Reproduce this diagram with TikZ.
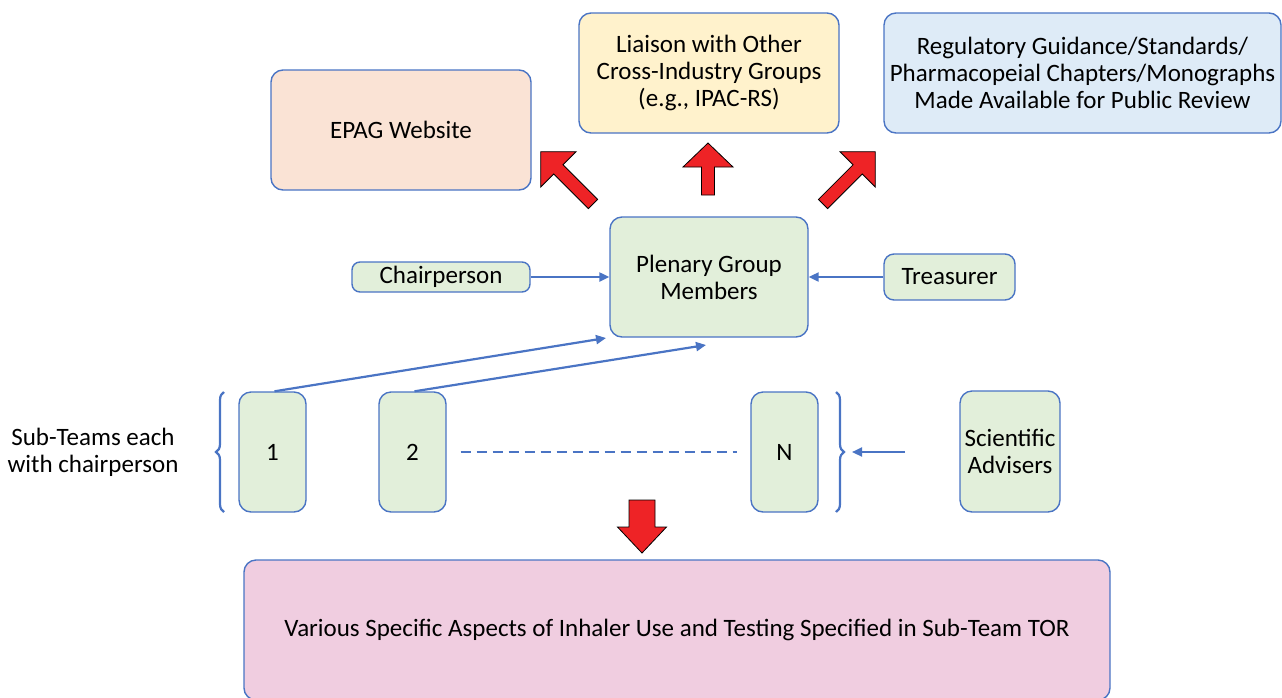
\documentclass[tikz,border=0pt]{standalone}
\usepackage{fontspec}
\setmainfont{Carlito}
\usetikzlibrary{decorations.pathreplacing,arrows.meta}
\definecolor{bl}{HTML}{4A74C4}
\definecolor{peach}{HTML}{FAE3D5}
\definecolor{yel}{HTML}{FFF2CC}
\definecolor{lblue}{HTML}{DEEBF7}
\definecolor{lgreen}{HTML}{E2EFDA}
\definecolor{pink}{HTML}{F0CDE0}
\definecolor{rd}{HTML}{EE2326}
\newcommand{\redarrow}[7]{%
  \filldraw[redarr, shift={(#1,#2)}, rotate=#3]
    (0,-#7) -- (#4-#5,-#7) -- (#4-#5,-#6) -- (#4,0) -- (#4-#5,#6) -- (#4-#5,#7) -- (0,#7) -- cycle;}
\begin{document}
\begin{tikzpicture}[x=1pt,y=-1pt,
  box/.style={draw=bl, line width=1.4pt, rounded corners=12pt, align=center,
    inner sep=0pt, font=\fontsize{25}{27}\selectfont},
  conn/.style={draw=bl, line width=2.2pt, -{Triangle[length=10pt,width=9pt]}},
  bracestyle/.style={draw=bl, line width=2.2pt, decorate, decoration={brace, amplitude=8pt}},
  redarr/.style={fill=rd, draw=black, line width=0.8pt},
  lbl/.style={align=center, inner sep=0pt, font=\fontsize{25}{27}\selectfont}]
\useasboundingbox (0,0) rectangle (1282,697);

\node[box, fill=peach, minimum width=260pt, minimum height=120pt] (epag) at (401,130) {EPAG Website};
\node[box, fill=yel, minimum width=260pt, minimum height=120pt] (liaison) at (709,73)
  {Liaison with Other\\Cross-Industry Groups\\(e.g., IPAC-RS)};
\node[box, fill=lblue, minimum width=397pt, minimum height=120pt] (reg) at (1082.5,73)
  {Regulatory Guidance/Standards/\\Pharmacopeial Chapters/Monographs\\Made Available for Public Review};
\node[box, fill=lgreen, minimum width=198pt, minimum height=120pt] (plen) at (709,277)
  {Plenary Group\\Members};
\node[box, fill=lgreen, rounded corners=8pt, minimum width=178pt, minimum height=30pt] (chair) at (441,277) {Chairperson};
\node[box, fill=lgreen, rounded corners=10pt, minimum width=131pt, minimum height=46pt] (treas) at (949.5,277) {Treasurer};
\node[box, fill=lgreen, minimum width=67pt, minimum height=120pt] (s1) at (272.5,452) {1};
\node[box, fill=lgreen, minimum width=67pt, minimum height=120pt] (s2) at (412.5,452) {2};
\node[box, fill=lgreen, minimum width=67pt, minimum height=120pt] (sN) at (784.5,452) {N};
\node[box, fill=lgreen, minimum width=100pt, minimum height=121pt] (sci) at (1010,451.5) {Scientific\\Advisers};
\node[box, fill=pink, minimum width=866pt, minimum height=140pt] (bot) at (677,630)
  {Various Specific Aspects of Inhaler Use and Testing Specified in Sub-Team TOR};
\node[lbl] (subt) at (93,452) {Sub-Teams each\\with chairperson};

\coordinate (p1) at (606,338);
\coordinate (p2) at (706,345);
\coordinate (blT) at (224,392);
\coordinate (blB) at (224,512);
\coordinate (brT) at (836,392);
\coordinate (brB) at (836,512);
\coordinate (brTip) at (852,452);
\coordinate (sciS) at (905,452);

\draw[conn] (chair.east) -- (plen.west);
\draw[conn] (treas.west) -- (plen.east);
\draw[conn] ([xshift=2pt]s1.north) -- (p1);
\draw[conn] ([xshift=2pt]s2.north) -- (p2);
\draw[conn] (sciS) -- (brTip);
\draw[bl, line width=2.2pt, dash pattern=on 10pt off 6pt] ([xshift=14pt]s2.east) -- ([xshift=-13pt]sN.west);
\draw[bracestyle] (blB) -- (blT);
\draw[bracestyle] (brT) -- (brB);

\redarrow{708}{195}{90}{52}{24}{25}{6.5}
\redarrow{593}{204}{135}{74}{25}{25}{6.5}
\redarrow{823}{204}{45}{74}{25}{25}{6.5}
\redarrow{642}{500}{270}{53}{26}{24.5}{13}
\end{tikzpicture}
\end{document}
